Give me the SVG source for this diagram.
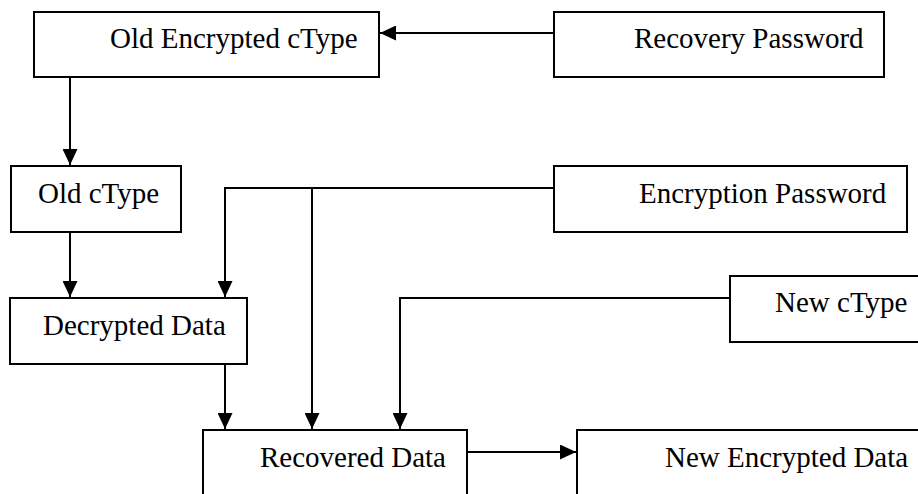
<svg xmlns="http://www.w3.org/2000/svg" width="918" height="494" viewBox="0 0 918 494">
<style>
.box{fill:#fff;stroke:#000;stroke-width:2}
.lbl{font-family:"Liberation Serif","Times New Roman",serif;font-size:29px;fill:#000}
.c{fill:none;stroke:#000;stroke-width:2}
</style>
<defs>
<marker id="ah" markerUnits="userSpaceOnUse" markerWidth="16" markerHeight="15" refX="16" refY="7.5" orient="auto">
<path d="M0,0 L16,7.5 L0,15 z" fill="#000"/>
</marker>
</defs>
<rect width="918" height="494" fill="#fff"/>
<g id="old-encrypted-ctype"><rect class="box" x="34" y="12" width="345" height="65"/><text class="lbl" x="110" y="48">Old Encrypted cType</text></g>
<g id="recovery-password"><rect class="box" x="554" y="12" width="330" height="65"/><text class="lbl" x="634" y="48">Recovery Password</text></g>
<g id="old-ctype"><rect class="box" x="11" y="166" width="170" height="66"/><text class="lbl" x="38" y="203">Old cType</text></g>
<g id="encryption-password"><rect class="box" x="554" y="166" width="353" height="66"/><text class="lbl" x="639" y="203">Encryption Password</text></g>
<g id="decrypted-data"><rect class="box" x="10" y="298" width="237" height="66"/><text class="lbl" x="43" y="335">Decrypted Data</text></g>
<g id="new-ctype"><rect class="box" x="730" y="276" width="200" height="66"/><text class="lbl" x="775" y="312">New cType</text></g>
<g id="recovered-data"><rect class="box" x="203" y="430" width="264" height="80"/><text class="lbl" x="260" y="467">Recovered Data</text></g>
<g id="new-encrypted-data"><rect class="box" x="577" y="430" width="360" height="80"/><text class="lbl" x="665" y="467">New Encrypted Data</text></g>
<g id="connectors">
<path class="c" d="M554,33 H380" marker-end="url(#ah)"/>
<path class="c" d="M70,77 V165" marker-end="url(#ah)"/>
<path class="c" d="M70,232 V297" marker-end="url(#ah)"/>
<path class="c" d="M554,188 H225 V297" marker-end="url(#ah)"/>
<path class="c" d="M312,188 V429" marker-end="url(#ah)"/>
<path class="c" d="M225,364 V429" marker-end="url(#ah)"/>
<path class="c" d="M730,298 H400 V429" marker-end="url(#ah)"/>
<path class="c" d="M467,452 H576" marker-end="url(#ah)"/>
</g>
</svg>
